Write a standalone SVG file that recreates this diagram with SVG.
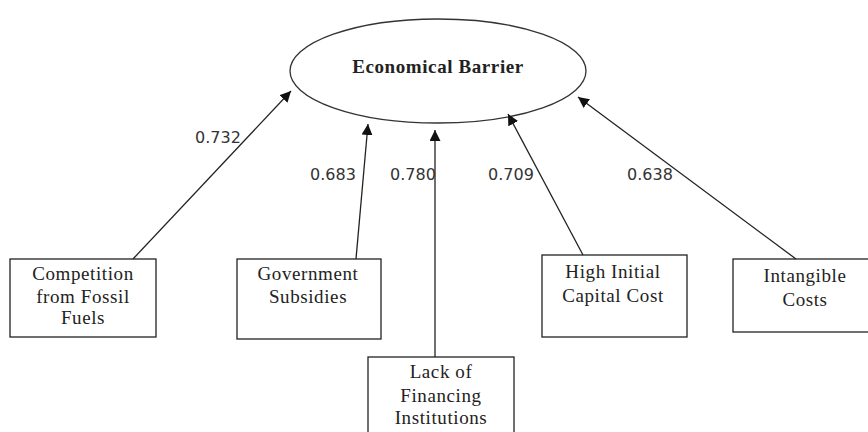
<svg xmlns="http://www.w3.org/2000/svg" width="868" height="432" viewBox="0 0 868 432">
<style>
.box{fill:#fff;stroke:#222;stroke-width:1.3}
.t{font-family:"Liberation Serif","DejaVu Serif",serif;font-size:19px;letter-spacing:0.6px;fill:#222;text-anchor:middle}
.lbl{font-family:"DejaVu Sans","Liberation Sans",sans-serif;font-size:16px;fill:#333}
.c{stroke:#222;stroke-width:1.3;fill:none;marker-end:url(#ah)}
</style>
<defs>
<marker id="ah" viewBox="0 0 10 10" refX="10" refY="5" markerWidth="11" markerHeight="11" markerUnits="userSpaceOnUse" orient="auto">
<path d="M0,0 L10,5 L0,10 z" fill="#111"/>
</marker>
</defs>
<rect width="868" height="432" fill="#fff"/>
<g id="economical-barrier">
<ellipse cx="438" cy="71" rx="148" ry="52" fill="#fff" stroke="#333" stroke-width="1.3"/>
<text class="t" x="438" y="73" font-weight="bold">Economical Barrier</text>
</g>
<g id="competition">
<rect class="box" x="10" y="259" width="146" height="78"/>
<text class="t" x="83" y="280">Competition</text>
<text class="t" x="83" y="303">from Fossil</text>
<text class="t" x="83" y="324">Fuels</text>
</g>
<g id="government">
<rect class="box" x="237" y="259" width="144" height="80"/>
<text class="t" x="308" y="280">Government</text>
<text class="t" x="308" y="303">Subsidies</text>
</g>
<g id="lack">
<rect class="box" x="368" y="357" width="146" height="80"/>
<text class="t" x="441" y="378">Lack of</text>
<text class="t" x="441" y="402">Financing</text>
<text class="t" x="441" y="424">Institutions</text>
</g>
<g id="high-initial">
<rect class="box" x="542" y="255" width="145" height="82"/>
<text class="t" x="613" y="278">High Initial</text>
<text class="t" x="613" y="302">Capital Cost</text>
</g>
<g id="intangible">
<rect class="box" x="733" y="259" width="140" height="73"/>
<text class="t" x="805" y="282">Intangible</text>
<text class="t" x="805" y="306">Costs</text>
</g>
<g id="connectors">
<line class="c" x1="133" y1="259" x2="291" y2="91"/>
<line class="c" x1="356" y1="259" x2="368" y2="124"/>
<line class="c" x1="435" y1="357" x2="435" y2="130"/>
<line class="c" x1="583" y1="255" x2="508" y2="114"/>
<line class="c" x1="796" y1="259" x2="578" y2="97"/>
<text class="lbl" x="195" y="143">0.732</text>
<text class="lbl" x="310" y="180">0.683</text>
<text class="lbl" x="390" y="180">0.780</text>
<text class="lbl" x="488" y="180">0.709</text>
<text class="lbl" x="627" y="180">0.638</text>
</g>
</svg>
